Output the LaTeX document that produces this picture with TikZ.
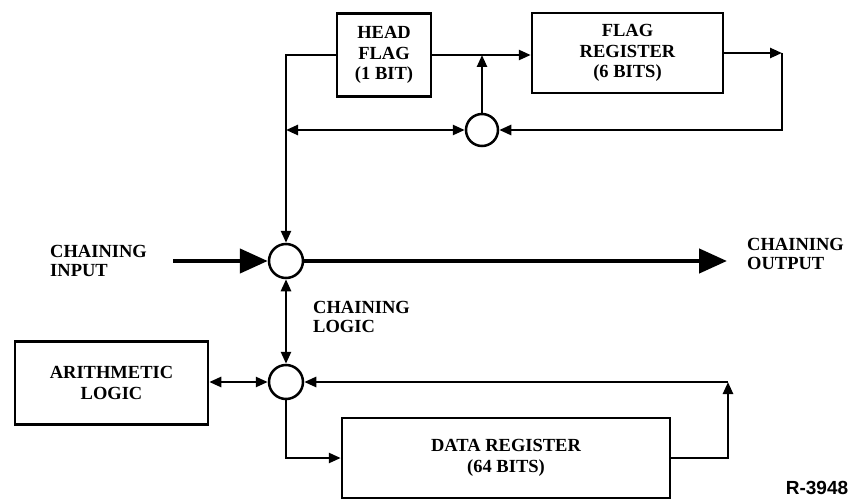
\documentclass[tikz,border=0pt]{standalone}
\usepackage{fontspec}
\setmainfont{Liberation Serif}
\newfontfamily\idfont{Liberation Sans}
\usetikzlibrary{arrows.meta}
\tikzset{
  lbl/.style={font=\fontsize{18.5}{19}\selectfont\bfseries, align=center, inner sep=0pt},
  blk/.style={draw, line width=2.5pt, rectangle, inner sep=0pt, font=\fontsize{18.5}{20.5}\selectfont\bfseries, align=center},
  junc/.style={draw, line width=2.5pt, circle, inner sep=0pt},
  wire/.style={line width=2.5pt},
  arr/.style={wire, -{Triangle[length=12pt,width=10pt]}},
  arrtwo/.style={wire, {Triangle[length=12pt,width=10pt]}-{Triangle[length=12pt,width=10pt]}},
  bigarr/.style={line width=4.5pt, -{Triangle[length=28pt,width=24pt]}},
}
\begin{document}
\begin{tikzpicture}[x=1pt,y=-1pt]
\useasboundingbox[fill=white] (0,0) rectangle (854,503);
% blocks
\node[blk, minimum width=94pt, minimum height=83pt] (headflag) at (384,55) {HEAD\\FLAG\\(1 BIT)};
\node[blk, minimum width=191pt, minimum height=80pt] (flagreg) at (627.5,53) {FLAG\\REGISTER\\(6 BITS)};
\node[blk, minimum width=193pt, minimum height=83pt] (arith) at (111.5,383) {ARITHMETIC\\LOGIC};
\node[blk, minimum width=328pt, minimum height=80pt] (datareg) at (506,458) {DATA REGISTER\\(64 BITS)};
% junctions
\node[junc, minimum size=32pt] (uc) at (482,130) {};
\node[junc, minimum size=34pt] (mc) at (286,261) {};
\node[junc, minimum size=34pt] (lc) at (286,382) {};
% coordinates
\coordinate (fr1) at (782,53);
\coordinate (dr1) at (728,382);
\coordinate (inp) at (173,261);
\coordinate (outp) at (727,261);
% labels
\node[lbl, anchor=west, align=left] (lin) at (50,261) {CHAINING\\INPUT};
\node[lbl, anchor=west, align=left] (lout) at (747,254) {CHAINING\\OUTPUT};
\node[lbl, anchor=west, align=left] (llog) at (313,317) {CHAINING\\LOGIC};
\node[font=\idfont\fontsize{19}{20}\selectfont\bfseries, inner sep=0pt] (rid) at (817,488) {R-3948};
% connectors
\draw[arr] (headflag.west) -| (mc.north);
\draw[arr] (headflag.east) -- (headflag.east -| flagreg.west);
\draw[arr] (uc.north) -- (uc.north |- headflag.east);
\draw[arrtwo] (uc.west) -- (uc.west -| mc.north);
\draw[arr] (flagreg.east) -- (fr1);
\draw[arr] (fr1) |- (uc.east);
\draw[bigarr] (inp) -- (mc.west);
\draw[bigarr] (mc.east) -- (outp);
\draw[arrtwo] (mc.south) -- (lc.north);
\draw[arrtwo] (lc.west -| arith.east) -- (lc.west);
\draw[arr] (lc.south) |- (datareg.west);
\draw[arr] (datareg.east) -| (dr1);
\draw[arr] (dr1) -- (lc.east);
\end{tikzpicture}
\end{document}
